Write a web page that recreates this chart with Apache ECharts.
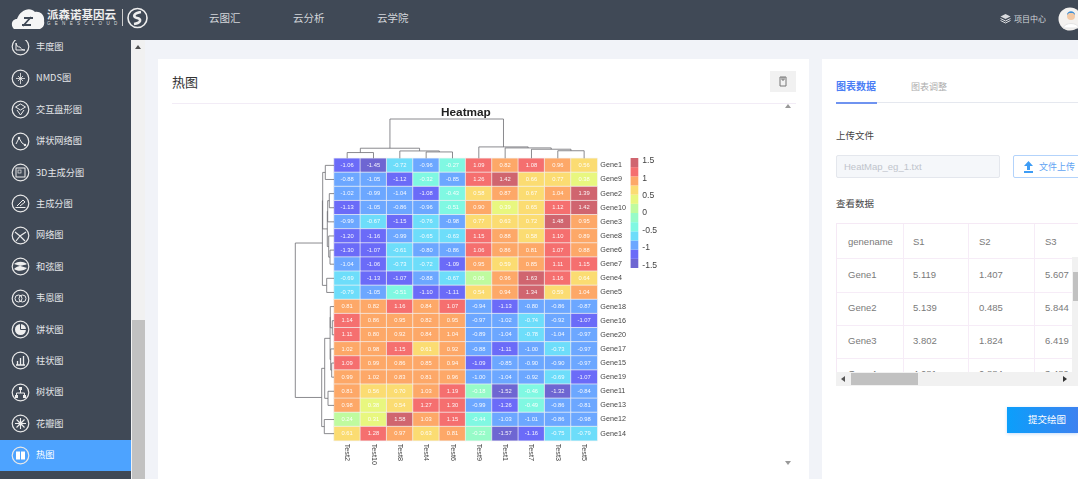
<!DOCTYPE html>
<html lang="zh">
<head>
<meta charset="utf-8">
<title>热图</title>
<script src="https://cdn.jsdelivr.net/npm/echarts@6/dist/echarts.min.js"></script>
<style>
html,body{margin:0;padding:0;width:1078px;height:479px;overflow:hidden;background:#f1f3f8;font-family:"Noto Sans CJK SC","Liberation Sans",sans-serif}
.a{position:absolute;white-space:nowrap;line-height:1}
.box{position:absolute;box-sizing:border-box}
#chart{position:absolute;left:160px;top:104px;width:640px;height:372px}
.nav{position:absolute;left:0;width:131px;height:31.4px;color:#e3e5e8;font-size:9.2px}
.nav span{position:absolute;left:36px;top:50%;transform:translateY(-50%);line-height:1}
.nav svg{position:absolute;left:11px;top:6px}
.cell{position:absolute;font-size:9.5px;color:#7a7a7a;line-height:1;transform:translateY(-50%);font-family:"Liberation Sans",sans-serif}
</style>
</head>
<body>
<div class="box" style="left:0;top:0;width:1078px;height:40px;background:#404956"></div>
<div class="box" style="left:0;top:40px;width:131px;height:439px;background:#404956;overflow:hidden" id="side"></div>
<div class="box" style="left:131px;top:40px;width:14px;height:439px;background:#f1f1f1"></div>
<div class="box" style="left:132px;top:320px;width:13px;height:159px;background:#c1c1c1"></div>
<div class="box" style="left:135px;top:45px;width:0;height:0;border:3px solid transparent;border-bottom:4px solid #505050;border-top:0"></div>
<div class="box" style="left:158px;top:59px;width:651px;height:420px;background:#fff"></div>
<div class="box" style="left:822px;top:59px;width:256px;height:420px;background:#fff"></div>

<svg class="box" style="left:11px;top:7px" width="35" height="23" viewBox="0 0 35 23"><path d="M3 22c-4-4-2-10 3-10 3-9 13-13 18-7 5-1 10 3 9 9 1 4-1 7-4 8z" fill="#f5f5f5"/><path d="M12 19l8-9M13 11h9M11 18h9" stroke="#404956" stroke-width="1.800" fill="none"/></svg>
<div class="a" style="left:47px;top:8.500px;font-size:11.500px;color:#eee;font-weight:700">派森诺基因云</div>
<div class="a" style="left:47px;top:22px;font-size:4.500px;color:#ddd;letter-spacing:4.300px;font-family:'Liberation Sans'">GENESCLOUD</div>
<div class="box" style="left:122px;top:9px;width:1px;height:17px;background:#ccc"></div>
<svg class="box" style="left:126px;top:7px" width="23" height="22" viewBox="0 0 23 22"><circle cx="11.500" cy="11" r="9.500" fill="none" stroke="#eee" stroke-width="1.600"/><path d="M15 5C8 6 6 10 11 11s4 5-3 6" fill="none" stroke="#eee" stroke-width="2.600"/></svg>
<div class="a" style="left:209px;top:13px;font-size:10.500px;color:#d3d6da">云图汇</div>
<div class="a" style="left:293px;top:13px;font-size:10.500px;color:#d3d6da">云分析</div>
<div class="a" style="left:377px;top:13px;font-size:10.500px;color:#d3d6da">云学院</div>
<svg class="box" style="left:1000px;top:13px" width="11" height="11" viewBox="0 0 11 11"><path d="M5.500 1L10.500 3.500 5.500 6 .5 3.500z" fill="#d8dadd"/><path d="M.5 5.500l5 2.500 5-2.500M.5 7.500l5 2.500 5-2.500" fill="none" stroke="#d8dadd"/></svg>
<div class="a" style="left:1014px;top:14.500px;font-size:8px;color:#d3d6da">项目中心</div>
<svg class="box" style="left:1058px;top:7px" width="20" height="24" viewBox="0 0 20 24"><circle cx="12" cy="12" r="11.500" fill="#f3f1ef"/><circle cx="13" cy="9" r="4" fill="#f2c9a6"/><path d="M9 8c0-5 8-5 8 0l-2-2h-4z" fill="#3d8fd8"/><path d="M5 21c2-6 14-6 16 0z" fill="#fff" stroke="#e4e4e4"/></svg>

<div class="a" style="left:172px;top:75px;font-size:13px;color:#333">热图</div>
<div class="box" style="left:172px;top:103px;width:624px;height:1px;background:#f2ecf6"></div>
<div class="box" style="left:770px;top:71px;width:26px;height:21px;background:#f1f1f1"></div>
<svg class="box" style="left:778px;top:76px" width="10" height="11" viewBox="0 0 10 11"><path d="M2 1h6v9H2zM4 1v3h2V1" fill="none" stroke="#777"/></svg>
<div class="box" style="left:785px;top:104px;width:0;height:0;border:3px solid transparent;border-bottom:4px solid #999;border-top:0"></div>
<div class="box" style="left:785px;top:461px;width:0;height:0;border:3px solid transparent;border-top:4px solid #999;border-bottom:0"></div>

<div id="chart"></div>

<div class="a" style="left:836px;top:81px;font-size:10px;color:#4a7df5;font-weight:700">图表数据</div>
<div class="a" style="left:911px;top:81.500px;font-size:9px;color:#adadad">图表调整</div>
<div class="box" style="left:836px;top:102px;width:242px;height:1px;background:#e5e8ef"></div>
<div class="box" style="left:836px;top:102px;width:41px;height:2px;background:#6f93f0"></div>
<div class="a" style="left:836px;top:131px;font-size:9.500px;color:#444">上传文件</div>
<div class="box" style="left:836px;top:155px;width:164px;height:23px;background:#f5f7fa;border:1px solid #e4e7ed;border-radius:2px"></div>
<div class="a" style="left:844px;top:161.500px;font-size:9.500px;color:#c0c4cc;font-family:'Liberation Sans'">HeatMap_eg_1.txt</div>
<div class="box" style="left:1013px;top:155px;width:80px;height:23px;background:#fff;border:1px solid #b3d3fb;border-radius:2px"></div>
<svg class="box" style="left:1024px;top:161px" width="9" height="12" viewBox="0 0 9 12"><path d="M4.500 0L9 5H6v4H3V5H0zM0 10h9v2H0z" fill="#3d9cf5"/></svg>
<div class="a" style="left:1039px;top:162px;font-size:9px;color:#62a4f3">文件上传</div>
<div class="a" style="left:836px;top:199px;font-size:9.500px;color:#444">查看数据</div>

<div class="box" id="table" style="left:836px;top:223px;width:242px;height:149px;overflow:hidden;border:1px solid #f5e9f5;border-bottom:0;border-right:0"></div>
<div class="box" style="left:1072px;top:257px;width:6px;height:115px;background:#f1f1f1"></div>
<div class="box" style="left:1073px;top:272px;width:5px;height:29px;background:#c1c1c1"></div>
<div class="box" style="left:836px;top:372px;width:242px;height:14px;background:#f1f1f1"></div>
<div class="box" style="left:851px;top:373px;width:67px;height:12px;background:#c1c1c1"></div>
<div class="box" style="left:841px;top:376px;width:0;height:0;border:3px solid transparent;border-right:4px solid #555;border-left:0"></div>
<div class="box" style="left:1063px;top:376px;width:0;height:0;border:3px solid transparent;border-left:4px solid #333;border-right:0"></div>
<div class="box" style="left:1007px;top:407px;width:71px;height:26px;background:linear-gradient(90deg,#0b9ffb,#3d82f0);box-shadow:0 1px 3px rgba(60,140,240,.3)"></div>
<div class="a" style="left:1028px;top:415px;font-size:9.500px;color:#fff">提交绘图</div>

<script>
// Heatmap data (rows and columns in the dendrogram order of the picture)
const columns = ["Test2","Test10","Test8","Test4","Test6","Test9","Test1","Test7","Test3","Test5"];
const genes = ["Gene1","Gene9","Gene2","Gene10","Gene3","Gene8","Gene6","Gene7","Gene4","Gene5","Gene18","Gene16","Gene20","Gene17","Gene15","Gene19","Gene11","Gene13","Gene12","Gene14"];
const values = [
[-1.06,-1.45,-0.72,-0.96,-0.27,1.09,0.82,1.08,0.96,0.56],
[-0.88,-1.05,-1.12,-0.32,-0.85,1.26,1.42,0.66,0.77,0.38],
[-1.02,-0.99,-1.04,-1.08,-0.43,0.58,0.87,0.67,1.04,1.39],
[-1.13,-1.05,-0.86,-0.96,-0.51,0.90,0.39,0.65,1.12,1.42],
[-0.99,-0.67,-1.15,-0.76,-0.98,0.77,0.63,0.72,1.48,0.95],
[-1.20,-1.16,-0.99,-0.65,-0.63,1.15,0.88,0.58,1.10,0.89],
[-1.30,-1.07,-0.61,-0.80,-0.86,1.06,0.86,0.81,1.07,0.88],
[-1.04,-1.06,-0.73,-0.72,-1.09,0.95,0.59,0.85,1.11,1.15],
[-0.69,-1.13,-1.07,-0.88,-0.67,0.06,0.96,1.63,1.16,0.64],
[-0.79,-1.05,-0.51,-1.10,-1.11,0.54,0.94,1.34,0.59,1.04],
[0.81,0.82,1.16,0.84,1.07,-0.94,-1.13,-0.80,-0.86,-0.87],
[1.14,0.86,0.95,0.82,0.95,-0.97,-1.02,-0.74,-0.92,-1.07],
[1.11,0.80,0.92,0.84,1.04,-0.89,-1.04,-0.78,-1.04,-0.97],
[1.02,0.98,1.15,0.61,0.92,-0.88,-1.11,-1.00,-0.73,-0.97],
[1.09,0.99,0.86,0.85,0.94,-1.09,-0.85,-0.90,-0.90,-0.97],
[0.99,1.02,0.83,0.81,0.96,-1.00,-1.04,-0.92,-0.69,-1.07],
[0.81,0.56,0.70,1.03,1.19,-0.18,-1.52,-0.46,-1.32,-0.84],
[0.98,0.38,0.54,1.27,1.30,-0.99,-1.26,-0.49,-0.86,-0.81],
[0.24,0.31,1.58,1.03,1.15,-0.44,-1.03,-1.01,-0.86,-0.98],
[0.61,1.28,0.97,0.63,0.81,-0.22,-1.57,-1.16,-0.75,-0.79]];
// Colour scale
const colorBreaks = [-1.58,-1.317,-1.053,-0.79,-0.527,-0.263,0,0.263,0.527,0.79,1.053,1.317,1.64];
const colorSteps = ["#6e66d2","#6b6bf8","#6ca7ff","#6dddfa","#80f8e2","#97fbc8","#bffb9f","#e8f77f","#fbdc72","#fda868","#f56f6f","#d0656f"];
const colorTicks = [-1.5,-1,-0.5,0,0.5,1,1.5];
// Dendrograms: [merge height, left child, right child]; a bare number is a leaf position
const colTree = [39,
  [10,[5.7,0,1],[7.3,2,[6.3,3,4]]],
  [11.3,5,[10.3,6,[9,7,[7.5,8,9]]]]];
const rowTree = [38.700,
  [11.6,
    [11.3,[8.7,0,1],[6.7,[6.3,[4.7,2,3],4],[5.3,5,[4,6,7]]]],
    [7.3,8,9]],
  [12.3,
    [9.3,
      [3.9,[3.7,10,[1.7,11,12]],[3.3,13,[2.3,14,15]]],
      [6,16,17]],
    [9.7,18,19]]];
// Page text
const navItems = ["丰度图","NMDS图","交互盘形图","饼状网络图","3D主成分图","主成分图","网络图","和弦图","韦恩图","饼状图","柱状图","树状图","花瓣图","热图"];
const navActive = "热图";
const tableHeader = ["genename","S1","S2","S3"];
const tableRows = [["Gene1","5.119","1.407","5.607"],["Gene2","5.139","0.485","5.844"],["Gene3","3.802","1.824","6.419"],["Gene4","4.081","0.884","3.489"]];
// Small glyphs drawn inside each round menu icon, one per menu entry
const navGlyphs = [
 '<path d="M5 6c1 3 1 4 4 4 1 2 2 3 5 3H5z" fill="none" stroke="#eee"/>',
 '<path d="M9.500 4v11M5 9.500h9M7 7l5 5M12 7l-5 5" stroke="#eee" stroke-width=".8"/>',
 '<path d="M9.500 4l5 3-5 3-5-3zM6 10l3.500 5 3.500-5" fill="none" stroke="#eee"/>',
 '<path d="M5 12l3-6 3 5 3 2" fill="none" stroke="#eee"/><circle cx="8" cy="6" r="1.200" fill="#eee"/><circle cx="14" cy="13" r="1.200" fill="#eee"/>',
 '<rect x="5" y="5" width="9" height="9" fill="none" stroke="#eee"/><rect x="7" y="7" width="3" height="3" fill="none" stroke="#eee" stroke-width=".7"/>',
 '<path d="M4.500 13.500h10M6 12l6-6 2 2-5 4" fill="none" stroke="#eee"/>',
 '<path d="M4 6l5 4 6-4M9 10l-4 5M9 10l5 5" fill="none" stroke="#eee" stroke-width="1.200"/>',
 '<path d="M3 7c4-3 9-3 13 0-4 2-9 1-13 5 4 3 10 2 13-1" fill="#eee"/>',
 '<circle cx="7.500" cy="9.500" r="3.500" fill="none" stroke="#eee"/><circle cx="11.500" cy="9.500" r="3.500" fill="none" stroke="#eee"/>',
 '<circle cx="9.500" cy="9.500" r="5.500" fill="#eee"/><path d="M9.500 9.500V4M9.500 9.500h5.500" stroke="#404956"/>',
 '<path d="M5 14h9M6.500 14V10M9.500 14V7M12.500 14V5" stroke="#eee" stroke-width="1.300"/>',
 '<path d="M9.500 7v3M5.500 13v-3h8v3" fill="none" stroke="#eee"/><rect x="8" y="4" width="3" height="3" fill="#eee"/><rect x="4" y="12" width="3" height="3" fill="#eee"/><rect x="12" y="12" width="3" height="3" fill="#eee"/>',
 '<circle cx="9.500" cy="9.500" r="2" fill="#eee"/><path d="M9.500 4v11M4 9.500h11M5.500 5.500l8 8M13.500 5.500l-8 8" stroke="#eee" stroke-width="1.100"/>',
 '<rect x="5" y="5.500" width="4" height="8" fill="#fff"/><rect x="10" y="5.500" width="4" height="8" fill="#fff"/>'
];

// ---- page chrome ----
const side = document.getElementById('side');
navItems.forEach((name,i)=>{
  const d = document.createElement('div');
  d.className='nav';
  d.style.top = (-8.600+31.4*i)+'px';
  if(name===navActive){d.style.background='#4da3ff';d.style.color='#fff';}
  d.innerHTML = '<svg width="19" height="19" viewBox="0 0 19 19"><circle cx="9.500" cy="9.500" r="8.300" fill="none" stroke="#e8e8e8" stroke-width="1.200"/>'+navGlyphs[i]+'</svg><span>'+name+'</span>';
  side.appendChild(d);
});
const table = document.getElementById('table');
const colX=[11,76,142,208], lineX=[66,131,197], rowY=[18,51,84,117,150], lineY=[34,68,101,134];
lineX.forEach(x=>{const l=document.createElement('div');l.className='box';l.style.cssText+='left:'+x+'px;top:0;width:1px;height:149px;background:#f6ecf7';table.appendChild(l);});
lineY.forEach(y=>{const l=document.createElement('div');l.className='box';l.style.cssText+='left:0;top:'+y+'px;width:242px;height:1px;background:#f6ecf7';table.appendChild(l);});
[tableHeader].concat(tableRows).forEach((r,ri)=>r.forEach((t,ci)=>{
  const c=document.createElement('div');c.className='cell';c.textContent=t;
  c.style.left=colX[ci]+'px';c.style.top=rowY[ri]+'px';table.appendChild(c);
}));

// ---- chart ----
const OX=160, OY=104;                      // chart div offset inside the page
const cellW=26.33, cellH=14.12, hmL=334-OX, hmT=158.3-OY;
const hmW=cellW*columns.length, hmH=cellH*genes.length;
const hmData=[];
values.forEach((row,r)=>row.forEach((v,c)=>hmData.push([c,r,v])));

function segments(tree,out){           // returns [position, height] of a node, collects its bracket lines
  if(typeof tree==='number') return [tree+0.5,0];
  const a=segments(tree[1],out), b=segments(tree[2],out), h=tree[0];
  out.push([a[0],a[1],a[0],h],[a[0],h,b[0],h],[b[0],h,b[0],b[1]]);
  return [(a[0]+b[0])/2,h];
}
const colSegs=[], rowSegs=[];
segments(colTree,colSegs); segments(rowTree,rowSegs);
const lineStyle={stroke:'#6d6d72',lineWidth:0.8};
const lineItem=(p1,p2)=>({type:'line',shape:{x1:p1[0],y1:p1[1],x2:p2[0],y2:p2[1]},style:lineStyle});

const fontLat='"Liberation Sans",Arial,sans-serif';
const hidden={show:false};
const chart=echarts.init(document.getElementById('chart'),null,{renderer:'canvas'});
chart.setOption({
  animation:false,
  backgroundColor:'transparent',
  title:{text:'Heatmap',left:441-OX,top:107-OY,padding:0,
    textStyle:{fontSize:11.800,fontWeight:'bold',color:'#222',fontFamily:fontLat}},
  visualMap:[{type:'piecewise',show:false,seriesIndex:0,dimension:2,
    pieces:colorSteps.map((color,i)=>({gte:colorBreaks[i],lt:colorBreaks[i+1],color}))}],
  grid:[
    {left:hmL,top:hmT,width:hmW,height:hmH},
    {left:hmL,top:119-OY,width:hmW,height:hmT-(119-OY)},
    {left:295.3-OX,top:hmT,width:hmL-(295.3-OX),height:hmH},
    {left:630.6-OX,top:158-OY,width:7.7,height:110}
  ],
  xAxis:[
    {gridIndex:0,type:'category',data:columns,position:'bottom',axisLine:hidden,axisTick:hidden,splitLine:hidden,
     axisLabel:{rotate:-90,fontSize:7.200,color:'#444',margin:3,interval:0,fontFamily:fontLat}},
    {gridIndex:1,type:'value',min:0,max:columns.length,show:false},
    {gridIndex:2,type:'value',min:0,max:38.700,inverse:true,show:false},
    {gridIndex:3,type:'value',min:0,max:1,show:false}
  ],
  yAxis:[
    {gridIndex:0,type:'category',data:genes,inverse:true,position:'right',axisLine:hidden,axisTick:hidden,splitLine:hidden,
     axisLabel:{fontSize:7.200,color:'#444',margin:3,interval:0,fontFamily:fontLat}},
    {gridIndex:1,type:'value',min:0,max:39,show:false},
    {gridIndex:2,type:'value',min:0,max:genes.length,inverse:true,show:false},
    {gridIndex:3,type:'value',min:-1.58,max:1.58,position:'right',axisLine:hidden,axisTick:hidden,splitLine:hidden,
     axisLabel:{customValues:colorTicks,fontSize:8.600,color:'#444',margin:4,fontFamily:fontLat,formatter:v=>String(v)}}
  ],
  series:[
    {type:'heatmap',xAxisIndex:0,yAxisIndex:0,data:hmData,silent:true,
     itemStyle:{borderColor:'#f4f4f4',borderWidth:0.7},
     label:{show:true,fontSize:5.800,color:'rgba(255,255,255,0.92)',fontFamily:fontLat,
       formatter:p=>p.value[2].toFixed(2)}},
    {type:'custom',xAxisIndex:1,yAxisIndex:1,silent:true,clip:false,data:colSegs,
     renderItem:(ps,api)=>lineItem(api.coord([api.value(0),api.value(1)]),api.coord([api.value(2),api.value(3)]))},
    {type:'custom',xAxisIndex:2,yAxisIndex:2,silent:true,clip:false,data:rowSegs,
     // the row tree stores [position,height]: swap into [height,position] for the horizontal axes
     renderItem:(ps,api)=>lineItem(api.coord([api.value(1),api.value(0)]),api.coord([api.value(3),api.value(2)]))},
    {type:'custom',xAxisIndex:3,yAxisIndex:3,silent:true,
     data:colorSteps.map((c,i)=>[0,colorBreaks[i],1,Math.min(colorBreaks[i+1],1.58),i]),
     renderItem:(ps,api)=>{
       const a=api.coord([api.value(0),api.value(1)]), b=api.coord([api.value(2),api.value(3)]);
       return {type:'rect',shape:{x:a[0],y:b[1],width:b[0]-a[0],height:a[1]-b[1]},style:{fill:colorSteps[api.value(4)]}};
     }}
  ]
});
</script>
</body>
</html>
